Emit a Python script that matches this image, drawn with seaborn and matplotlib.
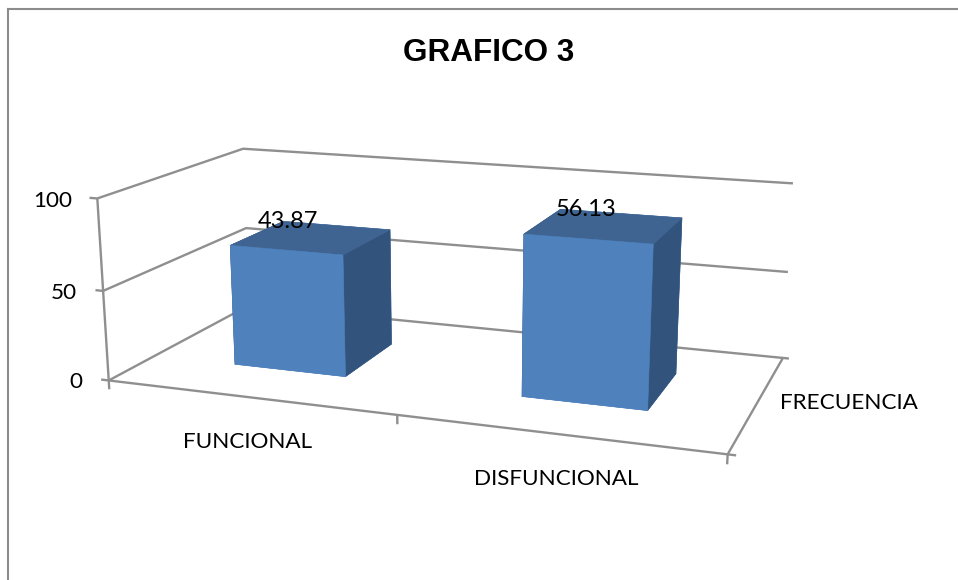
import numpy as np
import matplotlib
matplotlib.use("Agg")
import matplotlib.pyplot as plt
import seaborn as sns
from mpl_toolkits.mplot3d import Axes3D  # noqa
from mpl_toolkits.mplot3d.art3d import Line3DCollection

categories = ["FUNCIONAL", "DISFUNCIONAL"]
# bar heights are the counts, the labels on them are the percentages
frequencies = [68, 87]
percent_labels = ["43.87", "56.13"]
value_ticks = [0, 50, 100]
series_name = "FRECUENCIA"
chart_title = "GRAFICO 3"

bar_left = [0.15, 0.65]
bar_width = 0.2
bar_front = 0.3
bar_depth = 0.4
label_shift = [-0.043, -0.03]
# bar3d face order: bottom, top, front, back, left, right
face_colors = ["#4F81BD", "#3F6491", "#4F81BD", "#4F81BD", "#32547C", "#32547C"]

# where the chart box corners sit on the page: (category, depth, value) -> pixel
anchors = [
    (0, 0, 0, 109, 380), (0, 0, 50, 104, 291), (0, 0, 100, 97, 198),
    (0, 1, 0, 249, 305), (0, 1, 50, 246, 228), (0, 1, 100, 243, 149),
    (1, 1, 0, 783, 358), (1, 1, 50, 788, 272), (1, 1, 100, 793, 183.5),
    (1, 0, 0, 728, 453), (0.5, 0, 0, 396, 417),
]

sns.set_theme(style="white")
fig = plt.figure(figsize=(9.58, 5.8), dpi=100)

bg = fig.add_axes([8 / 958, 0, 950 / 958, 571 / 580])
bg.set_xticks([])
bg.set_yticks([])
sns.despine(ax=bg, right=True, bottom=True, left=False, top=False)
for side in ["left", "top"]:
    bg.spines[side].set_color("#8c8c8c")
    bg.spines[side].set_linewidth(1.5)

ax = fig.add_axes([0, 0, 1, 1], projection="3d")
ax.apply_aspect = lambda position=None: None
ax.set_axis_off()
ax.patch.set_alpha(0)
ax.computed_zorder = False


def fit_projection(points):
    rows, rhs = [], []
    inv = ax.transData.inverted()
    for x, d, v, px, py in points:
        u, w = inv.transform((px, 580 - py))
        rows.append([x, d, v, 1, 0, 0, 0, 0, -u * x, -u * d, -u * v])
        rows.append([0, 0, 0, 0, x, d, v, 1, -w * x, -w * d, -w * v])
        rhs += [u, w]
    p = np.linalg.lstsq(np.array(rows, float), np.array(rhs, float), rcond=None)[0]
    return np.array([
        [p[0], p[1], p[2], p[3]],
        [p[4], p[5], p[6], p[7]],
        [-0.3, 1.0, -0.003, 0.5],
        [p[8], p[9], p[10], 1.0],
    ])


M = fit_projection(anchors)
ax.get_proj = lambda: M

segments = []
for v in value_ticks:
    segments.append([(-0.014, 0, v), (0, 0, v), (0, 1, v), (1, 1, v)])
segments.append([(0, 0, 0), (0, 0, value_ticks[-1])])
segments.append([(0, 0, 0), (1, 0, 0), (1, 1, 0), (1.01, 1, 0)])
segments.append([(1, 0, 0), (1.012, 0, 0)])
for x in [0, 0.5, 1]:
    segments.append([(x, 0, 0), (x, 0, -5)])
grid = Line3DCollection(segments, colors="#8f8f8f", linewidths=1.7, zorder=1)
ax.add_collection3d(grid, autolim=False)

for i, val in enumerate(frequencies):
    ax.bar3d(bar_left[i], bar_front, 0, bar_width, bar_depth, val, shade=False,
             color=face_colors, edgecolor=face_colors, linewidth=0.4, zorder=2 + i)
    ax.text(bar_left[i] + bar_width / 2 + label_shift[i], bar_front + bar_depth / 2, val + 8, percent_labels[i],
            ha="center", va="center", fontsize=17, family="Lato", color="black", zorder=5)

lab_kw = dict(fontsize=16.2, family="Lato", color="black", va="center")
fig.text(489 / 958, 1 - 53 / 580, chart_title, ha="center", va="center", fontsize=22.7,
         fontweight="bold", family="Liberation Sans", color="black")
for tick, px, py in zip(value_ticks, [82, 77, 72], [382, 293, 201]):
    fig.text(px / 958, 1 - py / 580, str(tick), ha="right", **lab_kw)
fig.text(248 / 958, 1 - 442 / 580, categories[0], ha="center", **lab_kw)
fig.text(556 / 958, 1 - 479 / 580, categories[1], ha="center", **lab_kw)
fig.text(849 / 958, 1 - 403 / 580, series_name, ha="center", **lab_kw)

fig.savefig("out.png", dpi=100)
